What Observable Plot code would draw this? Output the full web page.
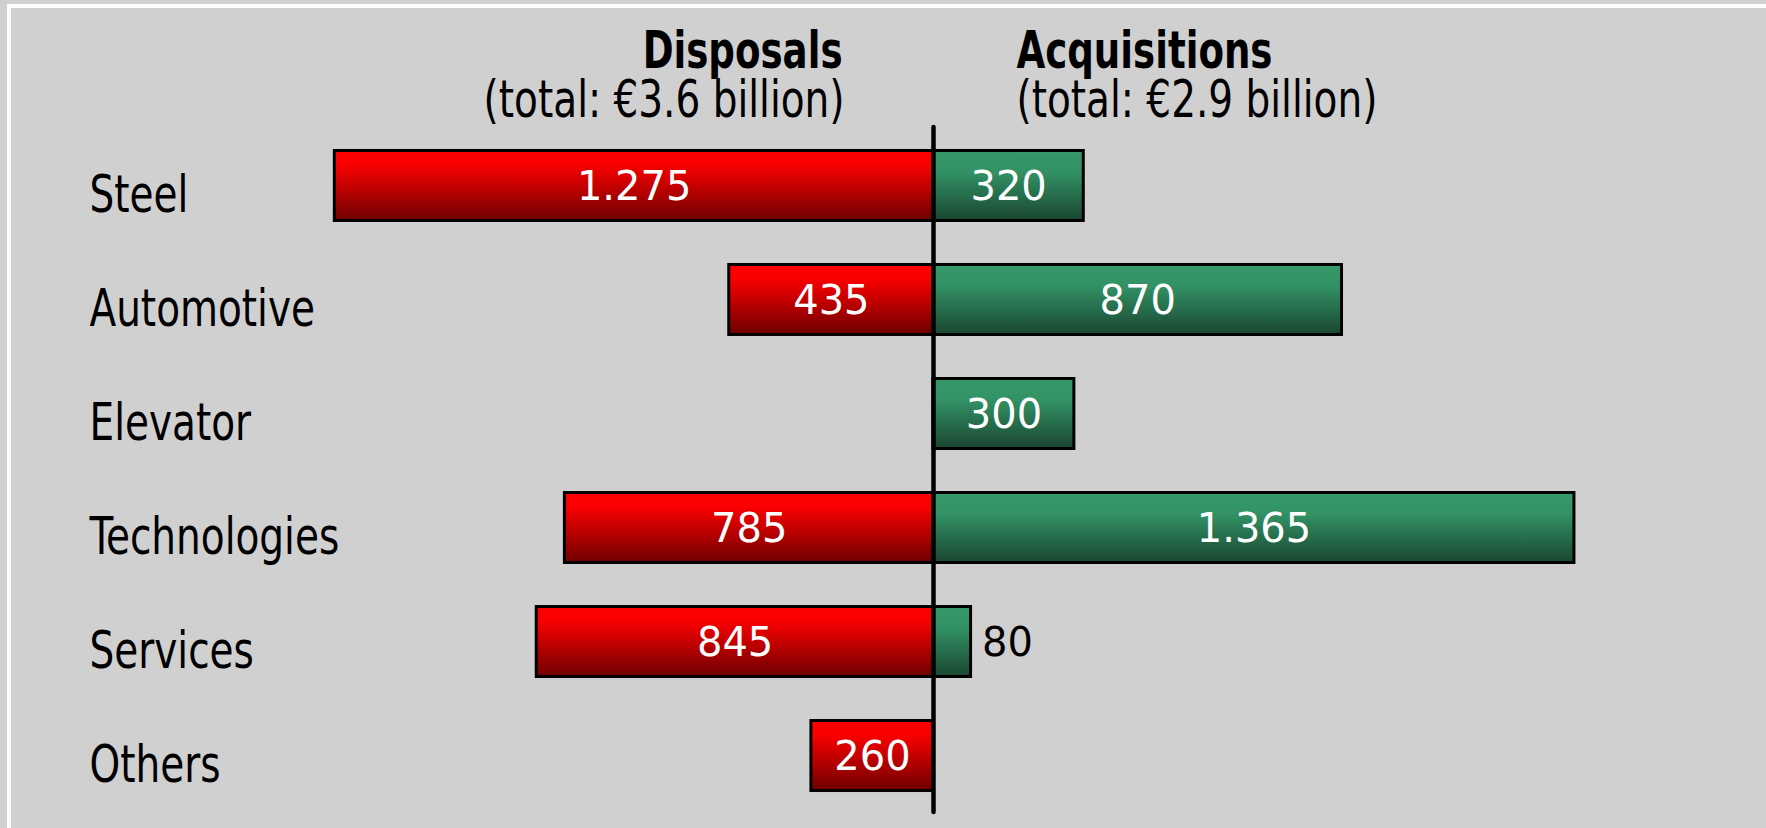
<!DOCTYPE html>
<html>
<head>
<meta charset="utf-8">
<script src="https://cdn.jsdelivr.net/npm/d3@7"></script>
<script src="https://cdn.jsdelivr.net/npm/@observablehq/plot@0.6"></script>
<style>
  html, body { margin: 0; padding: 0; background: #d0d0d0; overflow: hidden; }
  #wrap { position: relative; width: 1766px; height: 828px; }
  #frame { position: absolute; left: 7px; top: 4px; width: 2000px; height: 1000px;
           border-top: 4px solid #fff; border-left: 4px solid #fff; pointer-events: none; }
  svg { display: block; }
</style>
</head>
<body>
<div id="wrap"><div id="frame"></div></div>
<script>
const categories = ["Steel", "Automotive", "Elevator", "Technologies", "Services", "Others"];
const disposals = [1275, 435, 0, 785, 845, 260];
const acquisitions = [320, 870, 300, 1365, 80, 0];
const headerLeft = ["Disposals", "(total: €3.6 billion)"];
const headerRight = ["Acquisitions", "(total: €2.9 billion)"];

const labelFont = "'DejaVu Sans Condensed', 'DejaVu Sans', sans-serif";
const valueFont = "'DejaVu Sans', sans-serif";

const fmt = d3.formatLocale({decimal: ",", thousands: ".", grouping: [3], currency: ["", "€"]}).format(",");

const disp = categories.map((c, i) => ({cat: c, v: disposals[i]})).filter(d => d.v > 0);
const acq = categories.map((c, i) => ({cat: c, v: acquisitions[i]})).filter(d => d.v > 0);
const acqIn = acq.filter(d => d.v >= 150);
const acqOut = acq.filter(d => d.v < 150);

const plot = Plot.plot({
  width: 1766,
  height: 828,
  marginLeft: 0,
  marginRight: 0,
  marginTop: 123,
  marginBottom: 10,
  style: {background: "transparent", overflow: "visible"},
  x: {domain: [-1987, 1774], axis: null},
  y: {domain: categories, axis: null, paddingInner: 0.386, paddingOuter: 0.241, round: false},
  marks: [
    Plot.barX(disp, {y: "cat", x1: d => -d.v, x2: 0, fill: "url(#gradRed)", stroke: "#000", strokeWidth: 3}),
    Plot.barX(acq, {y: "cat", x1: 0, x2: d => d.v, fill: "url(#gradGreen)", stroke: "#000", strokeWidth: 3}),
    Plot.ruleX([0], {stroke: "#000", strokeWidth: 4.5, insetTop: 4, insetBottom: 6, strokeLinecap: "round"}),
    Plot.text(disp, {y: "cat", x: d => -d.v / 2, text: d => fmt(d.v), fill: "#fff", fontSize: 40, fontFamily: valueFont, dy: 1.5}),
    Plot.text(acqIn, {y: "cat", x: d => d.v / 2, text: d => fmt(d.v), fill: "#fff", fontSize: 40, fontFamily: valueFont, dy: 1.5}),
    Plot.text(acqOut, {y: "cat", x: d => d.v, text: d => fmt(d.v), fill: "#000", fontSize: 40, fontFamily: valueFont, dy: 1.5, dx: 11, textAnchor: "start"}),
    Plot.text(categories, {y: d => d, frameAnchor: "left", dx: 89, dy: 9.5, textAnchor: "start", fill: "#000", fontSize: 51, fontFamily: labelFont, className: "narrow85"}),
    Plot.text([headerLeft[0]], {x: 0, frameAnchor: "top", lineAnchor: "bottom", textAnchor: "end", dx: -91, dy: -56, fontWeight: "bold", fontSize: 51, fontFamily: labelFont, fill: "#000", className: "narrow80"}),
    Plot.text([headerLeft[1]], {x: 0, frameAnchor: "top", lineAnchor: "bottom", textAnchor: "end", dx: -89, dy: -7, fontSize: 51, fontFamily: labelFont, fill: "#000", className: "narrow85"}),
    Plot.text([headerRight[0]], {x: 0, frameAnchor: "top", lineAnchor: "bottom", textAnchor: "start", dx: 83, dy: -56, fontWeight: "bold", fontSize: 51, fontFamily: labelFont, fill: "#000", className: "narrow80"}),
    Plot.text([headerRight[1]], {x: 0, frameAnchor: "top", lineAnchor: "bottom", textAnchor: "start", dx: 83, dy: -7, fontSize: 51, fontFamily: labelFont, fill: "#000", className: "narrow85"})
  ]
});

// horizontally condense the label texts (the reference uses a condensed face)
function condense(sel, s) {
  d3.select(plot).selectAll(sel).each(function() {
    const t = this.getAttribute("transform") || "";
    const x = this.getAttribute("x");
    let extra = "";
    if (x != null && !isNaN(+x)) {
      extra = ` translate(${+x},0)`;
      this.removeAttribute("x");
    }
    this.setAttribute("transform", `${t}${extra} scale(${s},1)`);
  });
}
condense(".narrow85 text", 0.85);
condense(".narrow80 text", 0.81);

const defs = d3.select(plot).insert("defs", ":first-child");
const red = defs.append("linearGradient").attr("id", "gradRed").attr("x1", 0).attr("y1", 0).attr("x2", 0).attr("y2", 1);
red.append("stop").attr("offset", "0").attr("stop-color", "#ff0000");
red.append("stop").attr("offset", "0.2").attr("stop-color", "#fa0000");
red.append("stop").attr("offset", "1").attr("stop-color", "#6e0000");
const green = defs.append("linearGradient").attr("id", "gradGreen").attr("x1", 0).attr("y1", 0).attr("x2", 0).attr("y2", 1);
green.append("stop").attr("offset", "0").attr("stop-color", "#36996a");
green.append("stop").attr("offset", "0.3").attr("stop-color", "#329265");
green.append("stop").attr("offset", "1").attr("stop-color", "#1a4631");

document.getElementById("wrap").prepend(plot);
</script>
</body>
</html>
